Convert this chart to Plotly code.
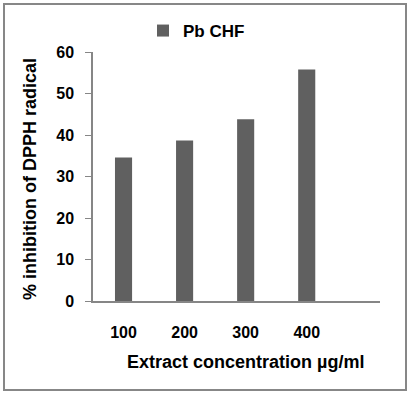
import plotly.graph_objects as go

categories = ["100", "200", "300", "400"]
values = [34.6, 38.7, 43.8, 55.8]
series_name = "Pb CHF"
y_ticks = [0, 10, 20, 30, 40, 50, 60]

W, H = 411, 395
L, R, T, B = 93, 31, 52, 94
pw = W - L - R
ph = H - T - B

def px_x(x):
    return (x - L) / pw

def px_y(y):
    return (H - B - y) / ph

FAM = "Liberation Sans, Arial"

fig = go.Figure()
fig.add_trace(go.Bar(
    x=categories, y=values, name=series_name,
    marker=dict(color="#606060", line=dict(width=0)),
    width=0.28, showlegend=True,
))

fig.update_layout(
    width=W, height=H,
    margin=dict(l=L, r=R, t=T, b=B, pad=0),
    paper_bgcolor="white", plot_bgcolor="white",
    font=dict(family=FAM, size=16, color="black"),
    showlegend=True,
    legend=dict(orientation="h", x=px_x(143), y=px_y(31), xanchor="left", yanchor="middle",
                font=dict(family=FAM, size=17, color="black", weight="bold"),
                bgcolor="rgba(0,0,0,0)", itemwidth=30),
)
fig.update_xaxes(
    type="category", range=[-0.5, 4.2],
    showline=True, linecolor="#868686", linewidth=1.5,
    ticks="", showgrid=False, zeroline=False,
    tickfont=dict(family=FAM, size=16, color="black", weight="bold"),
    ticklabelstandoff=16,
)
fig.update_yaxes(
    range=[0, 60], tickvals=y_ticks,
    showline=True, linecolor="#868686", linewidth=1.5,
    ticks="outside", ticklen=6, tickcolor="#868686", tickwidth=1,
    showgrid=False, zeroline=False,
    tickfont=dict(family=FAM, size=16, color="black", weight="bold"),
    ticklabelstandoff=8,
)

fig.add_annotation(
    text="<b>Extract concentration µg/ml</b>", xref="paper", yref="paper",
    x=px_x(246), y=px_y(362), xanchor="center", yanchor="middle",
    showarrow=False, font=dict(family=FAM, size=18, color="black"),
)
fig.add_annotation(
    text="<b>% inhibition of DPPH radical</b>", xref="paper", yref="paper",
    x=px_x(30), y=px_y(179), xanchor="center", yanchor="middle", textangle=-90,
    showarrow=False, font=dict(family=FAM, size=18, color="black"),
)
fig.add_shape(
    type="rect", xref="paper", yref="paper",
    x0=px_x(4), x1=px_x(406), y0=px_y(390), y1=px_y(4),
    line=dict(color="#878787", width=2), fillcolor="rgba(0,0,0,0)", layer="below",
)

fig.write_html("out.html", config={"displayModeBar": False},
               post_script="document.body.style.margin='0';document.body.style.overflow='hidden';")
